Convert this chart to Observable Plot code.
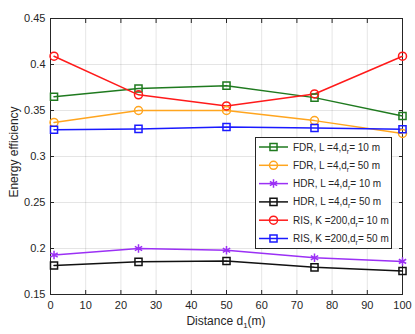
<!DOCTYPE html>
<html><head><meta charset="utf-8">
<script src="https://cdn.jsdelivr.net/npm/d3@7"></script>
<script src="https://cdn.jsdelivr.net/npm/@observablehq/plot@0.6"></script>
<style>
body{margin:0;background:#fff;}
#wrap{position:relative;width:415px;height:334px;font-family:"Liberation Sans",Arial,Helvetica,sans-serif;color:#262626;}
#wrap svg{display:block;}
.lab{position:absolute;font-size:12px;white-space:nowrap;color:#262626;}
#legend{position:absolute;left:255px;top:137px;width:137px;height:112px;background:#fff;border:1px solid #262626;box-sizing:border-box;}
</style>
</head><body>
<div id="wrap"></div>
<script>
const distances = [1, 25, 50, 75, 100];
const fdr10 = [0.365, 0.374, 0.377, 0.364, 0.344];
const fdr50 = [0.337, 0.350, 0.350, 0.339, 0.325];
const hdr10 = [0.193, 0.200, 0.198, 0.190, 0.186];
const hdr50 = [0.1815, 0.1855, 0.1865, 0.1795, 0.1755];
const ris10 = [0.409, 0.367, 0.355, 0.368, 0.409];
const ris50 = [0.329, 0.330, 0.332, 0.331, 0.3297];
const seriesNames = ["FDR10", "FDR50", "HDR10", "HDR50", "RIS10", "RIS50"];
const seriesValues = [fdr10, fdr50, hdr10, hdr50, ris10, ris50];
const legendPre = ["FDR, L =4,d", "FDR, L =4,d", "HDR, L =4,d", "HDR, L =4,d", "RIS, K =200,d", "RIS, K =200,d"];
const legendPost = ["= 10 m", "= 50 m", "= 10 m", "= 50 m", "= 10 m", "= 50 m"];
const colors = ["#1f7a1f", "#ffa51f", "#9b30f5", "#111111", "#ff1a1a", "#1a1aff"];
const symbols = ["square", "circle", "asterisk", "square", "circle", "square"];
const xTicks = [0, 10, 20, 30, 40, 50, 60, 70, 80, 90, 100];
const yTicks = [0.15, 0.2, 0.25, 0.3, 0.35, 0.4, 0.45];

const data = seriesNames.flatMap((s, i) => distances.map((d, j) => ({series: s, x: d, y: seriesValues[i][j]})));
const fmt = d => String(+d.toFixed(2));

const chart = Plot.plot({
  width: 415, height: 334,
  marginLeft: 50, marginRight: 13, marginTop: 18, marginBottom: 40,
  style: {fontFamily: '"Liberation Sans",Arial,Helvetica,sans-serif', fontSize: "11px", color: "#262626", background: "#fff"},
  x: {domain: [0, 100]},
  y: {domain: [0.15, 0.45]},
  color: {domain: seriesNames, range: colors},
  symbol: {domain: seriesNames, range: symbols},
  marks: [
    Plot.gridX(xTicks, {stroke: "#000", strokeOpacity: 0.1}),
    Plot.gridY(yTicks, {stroke: "#000", strokeOpacity: 0.1}),
    Plot.axisX(xTicks, {tickSize: -4, tickPadding: 11, label: null, tickFormat: d => d, stroke: "#262626", fill: "#262626"}),
    Plot.axisX(xTicks, {anchor: "top", tickSize: -4, label: null, tickFormat: () => "", stroke: "#262626"}),
    Plot.axisY(yTicks, {tickSize: -4, tickPadding: 9, label: null, tickFormat: fmt, stroke: "#262626", fill: "#262626"}),
    Plot.axisY(yTicks, {anchor: "right", tickSize: -4, label: null, tickFormat: () => "", stroke: "#262626"}),
    Plot.frame({stroke: "#262626"}),
    Plot.line(data, {x: "x", y: "y", z: "series", stroke: "series", strokeWidth: 1.5}),
    Plot.dot(data, {x: "x", y: "y", stroke: "series", symbol: "series", fill: "none", r: 4, strokeWidth: 1.5})
  ]
});
const wrap = document.getElementById("wrap");
wrap.appendChild(chart);

const yl = document.createElement("div");
yl.className = "lab";
yl.textContent = "Energy efficiency";
yl.style.left = "14px"; yl.style.top = "152px";
yl.style.transform = "translate(-50%,-50%) rotate(-90deg)";
wrap.appendChild(yl);

const xl = document.createElement("div");
xl.className = "lab";
xl.innerHTML = "Distance d<sub style='font-size:8px'>1</sub>(m)";
xl.style.left = "226px"; xl.style.top = "322px";
xl.style.transform = "translate(-50%,-50%)";
wrap.appendChild(xl);

const leg = document.createElement("div");
leg.id = "legend";
wrap.appendChild(leg);
const lsvg = d3.select(leg).append("svg").attr("width", 135).attr("height", 110);
const symMap = {square: d3.symbolSquare, circle: d3.symbolCircle, asterisk: d3.symbolAsterisk};
seriesNames.forEach((s, i) => {
  const g = lsvg.append("g").attr("transform", `translate(0,${9 + i * 18.3})`);
  g.append("line").attr("x1", 3).attr("x2", 32).attr("stroke", colors[i]).attr("stroke-width", 1.5);
  g.append("path").attr("transform", "translate(17.5,0)")
    .attr("d", d3.symbol(symMap[symbols[i]], 50)())
    .attr("fill", "none").attr("stroke", colors[i]).attr("stroke-width", 1.5);
  const t = g.append("text").attr("x", 37).attr("y", 3.5).attr("font-size", 10)
    .attr("font-family", '"Liberation Sans",Arial,Helvetica,sans-serif').attr("fill", "#262626");
  t.append("tspan").text(legendPre[i]);
  t.append("tspan").attr("dy", 3).attr("font-size", 7).text("r");
  t.append("tspan").attr("dy", -3).text(legendPost[i]);
});
</script>
</body></html>
